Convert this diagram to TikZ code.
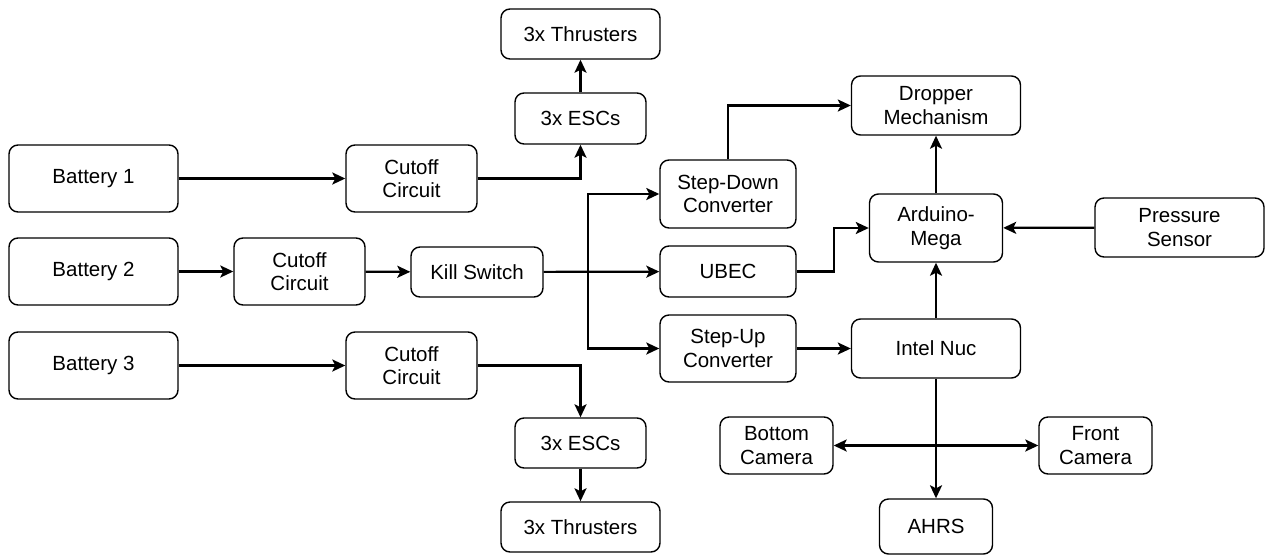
\documentclass[tikz,border=0pt]{standalone}
\usepackage{fontspec}
\setmainfont{Liberation Sans}
\usetikzlibrary{arrows.meta}
\begin{document}
\begin{tikzpicture}[x=1pt,y=-1pt,
  box/.style={draw=black, line width=1.4pt, rounded corners=9pt, align=center, inner sep=0pt,
    font=\fontsize{20.5}{23.5}\selectfont},
  arr/.style={line width=2.2pt, -{Stealth[length=13pt,width=12pt,inset=3pt]}}]
\useasboundingbox (0,0) rectangle (1266,555);
% batteries and cutoffs
\node[box, minimum width=169pt, minimum height=67pt] (b1) at (93.5,178.5) {Battery 1};
\node[box, minimum width=169pt, minimum height=67pt] (b2) at (93.5,271.5) {Battery 2};
\node[box, minimum width=169pt, minimum height=67pt] (b3) at (93.5,365.5) {Battery 3};
\node[box, minimum width=131pt, minimum height=67pt] (c1) at (411.5,178.5) {Cutoff\\Circuit};
\node[box, minimum width=131pt, minimum height=67pt] (c2) at (299.5,271.5) {Cutoff\\Circuit};
\node[box, minimum width=131pt, minimum height=67pt] (c3) at (411.5,365.5) {Cutoff\\Circuit};
\node[box, minimum width=132pt, minimum height=50pt] (ks) at (477,272) {Kill Switch};
% thrusters
\node[box, minimum width=159pt, minimum height=50pt] (t1) at (580.5,34) {3x Thrusters};
\node[box, minimum width=131pt, minimum height=51pt] (e1) at (580.5,118.5) {3x ESCs};
\node[box, minimum width=131pt, minimum height=50pt] (e2) at (580.5,443) {3x ESCs};
\node[box, minimum width=159pt, minimum height=50pt] (t2) at (580.5,527) {3x Thrusters};
% converters
\node[box, minimum width=136pt, minimum height=68pt] (sd) at (728,194) {Step-Down\\Converter};
\node[box, minimum width=136pt, minimum height=51pt] (ubec) at (728,271.5) {UBEC};
\node[box, minimum width=136pt, minimum height=67pt] (su) at (728,348.5) {Step-Up\\Converter};
% right side
\node[box, minimum width=169pt, minimum height=59pt] (dm) at (936,105.5) {Dropper\\Mechanism};
\node[box, minimum width=133pt, minimum height=68pt] (am) at (936,228) {Arduino-\\Mega};
\node[box, minimum width=169pt, minimum height=59pt] (ps) at (1179.5,227.5) {Pressure\\Sensor};
\node[box, minimum width=169pt, minimum height=59pt] (nuc) at (936,348.5) {Intel Nuc};
\node[box, minimum width=113pt, minimum height=57pt] (bc) at (776.5,445.5) {Bottom\\Camera};
\node[box, minimum width=113pt, minimum height=57pt] (fc) at (1095.5,445.5) {Front\\Camera};
\node[box, minimum width=113pt, minimum height=55pt] (ahrs) at (936,526.5) {AHRS};
% connectors
\draw[arr] (b1) -- (c1);
\draw[arr] (c1.east) -| (e1.south);
\draw[arr] (e1) -- (t1);
\draw[arr] (b2) -- (c2);
\draw[arr] (c2) -- (ks);
\draw[arr] (ks) -- (ubec);
\draw[arr] (b3) -- (c3);
\coordinate (j) at (588,272);
\draw[arr] (j) |- (sd);
\draw[arr] (j) |- (su);
\draw[arr] (sd.north) |- (dm.west);
\draw[arr] (ubec.east) -- ++(37,0) |- (am.west);
\draw[arr] (ps) -- (am);
\draw[arr] (am) -- (dm);
\draw[arr] (nuc) -- (am);
\draw[arr] (su) -- (nuc);
\draw[arr] (c3.east) -| (e2.north);
\draw[arr] (e2) -- (t2);
\draw[arr] (nuc) -- (ahrs);
\coordinate (k) at (nuc.south |- bc.east);
\draw[arr] (k) -- (bc);
\draw[arr] (k) -- (fc);
\end{tikzpicture}
\end{document}
